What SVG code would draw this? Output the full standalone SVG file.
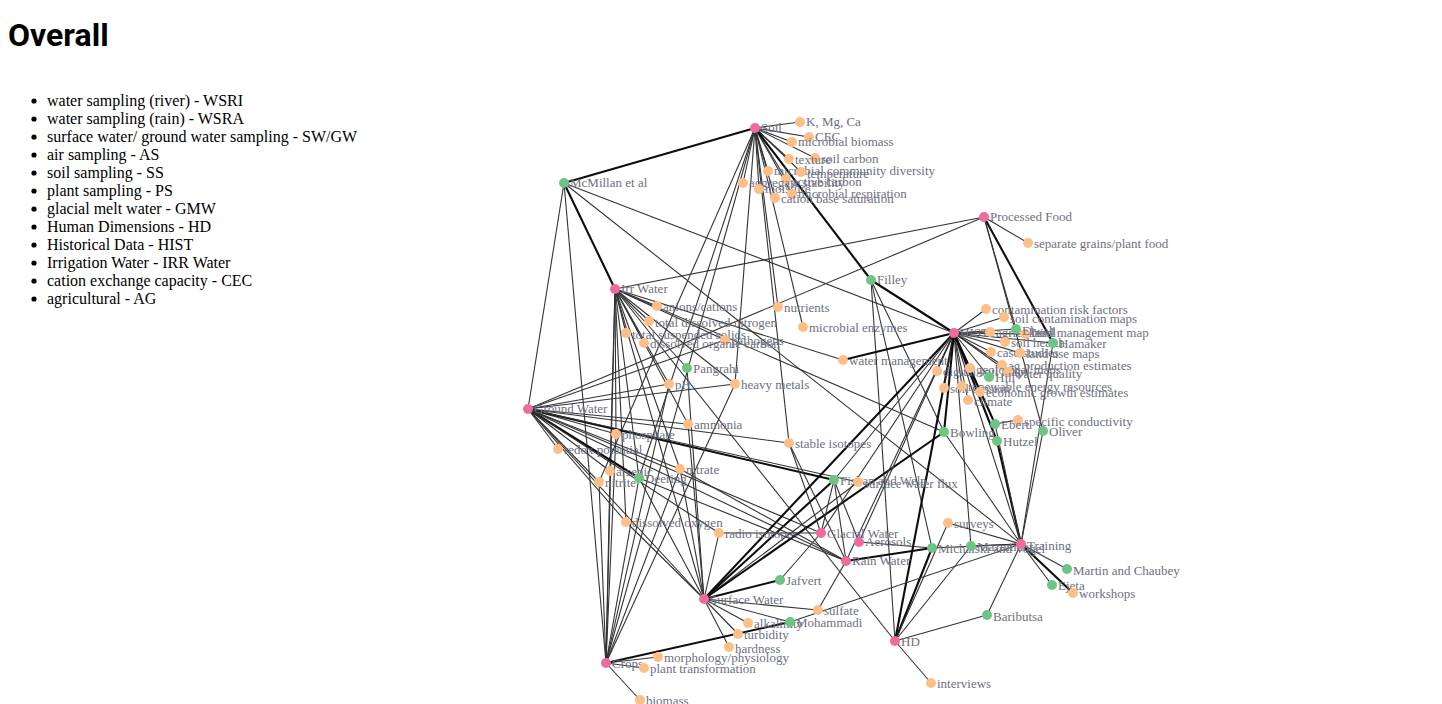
<svg xmlns="http://www.w3.org/2000/svg" width="1442" height="704" viewBox="0 0 1442 704">
<style>
.title{font-family:Roboto,"Liberation Sans",sans-serif;font-weight:700;font-size:32px;fill:#000}
.li{font-family:"Liberation Serif","Times New Roman",serif;font-size:16px;fill:#000}
#edges line{stroke:#333;stroke-width:1.1}
#edges line.t{stroke:#0d0d0d;stroke-width:2.1}
.node text{font-family:"Liberation Serif","Times New Roman",serif;font-size:13px;fill:#6e7080}
.hub circle{fill:#ef6a9d}
.pap circle{fill:#6cc584}
.att circle{fill:#fdbe87}
</style>
<rect width="1442" height="704" fill="#fff"/>
<text class="title" x="8" y="46">Overall</text>
<g id="legend">
<g fill="#000"><circle cx="34" cy="101" r="2.6"/><circle cx="34" cy="119" r="2.6"/><circle cx="34" cy="137" r="2.6"/><circle cx="34" cy="155" r="2.6"/><circle cx="34" cy="173" r="2.6"/><circle cx="34" cy="191" r="2.6"/><circle cx="34" cy="209" r="2.6"/><circle cx="34" cy="227" r="2.6"/><circle cx="34" cy="245" r="2.6"/><circle cx="34" cy="263" r="2.6"/><circle cx="34" cy="281" r="2.6"/><circle cx="34" cy="299" r="2.6"/></g>
<text class="li" x="47" y="106">water sampling (river) - WSRI</text>
<text class="li" x="47" y="124">water sampling (rain) - WSRA</text>
<text class="li" x="47" y="142">surface water/ ground water sampling - SW/GW</text>
<text class="li" x="47" y="160">air sampling - AS</text>
<text class="li" x="47" y="178">soil sampling - SS</text>
<text class="li" x="47" y="196">plant sampling - PS</text>
<text class="li" x="47" y="214">glacial melt water - GMW</text>
<text class="li" x="47" y="232">Human Dimensions - HD</text>
<text class="li" x="47" y="250">Historical Data - HIST</text>
<text class="li" x="47" y="268">Irrigation Water - IRR Water</text>
<text class="li" x="47" y="286">cation exchange capacity - CEC</text>
<text class="li" x="47" y="304">agricultural - AG</text>
</g>
<g id="edges">
<!-- Soil -->
<line x1="755" y1="128" x2="800" y2="122"/>
<line x1="755" y1="128" x2="809" y2="137"/>
<line x1="755" y1="128" x2="792" y2="142"/>
<line x1="755" y1="128" x2="789" y2="159"/>
<line x1="755" y1="128" x2="815" y2="158"/>
<line x1="755" y1="128" x2="768" y2="171"/>
<line x1="755" y1="128" x2="801" y2="172"/>
<line x1="755" y1="128" x2="786" y2="179"/>
<line x1="755" y1="128" x2="743" y2="183"/>
<line x1="755" y1="128" x2="759" y2="189"/>
<line x1="755" y1="128" x2="792" y2="194"/>
<line x1="755" y1="128" x2="775" y2="198"/>
<line class="t" x1="755" y1="128" x2="564" y2="183"/>
<line class="t" x1="755" y1="128" x2="871" y2="280"/>
<line x1="755" y1="128" x2="599" y2="482"/>
<line x1="755" y1="128" x2="639" y2="478"/>
<line x1="755" y1="128" x2="606" y2="663"/>
<line x1="755" y1="128" x2="735" y2="384"/>
<line x1="755" y1="128" x2="789" y2="443"/>
<line x1="755" y1="128" x2="778" y2="307"/>
<line x1="755" y1="128" x2="803" y2="327"/>
<!-- Filley -->
<line class="t" x1="871" y1="280" x2="954" y2="333"/>
<line x1="871" y1="280" x2="895" y2="641"/>
<line x1="871" y1="280" x2="944" y2="432"/>
<line x1="871" y1="280" x2="932" y2="548"/>
<!-- McMillan -->
<line class="t" x1="564" y1="183" x2="615" y2="289"/>
<line x1="564" y1="183" x2="528" y2="409"/>
<line x1="564" y1="183" x2="606" y2="663"/>
<line x1="564" y1="183" x2="954" y2="333"/>
<line x1="564" y1="183" x2="1021" y2="544"/>
<!-- Irr Water -->
<line x1="615" y1="289" x2="657" y2="306"/>
<line x1="615" y1="289" x2="649" y2="321"/>
<line x1="615" y1="289" x2="626" y2="333"/>
<line x1="615" y1="289" x2="644" y2="343"/>
<line x1="615" y1="289" x2="725" y2="340"/>
<line x1="615" y1="289" x2="669" y2="384"/>
<line x1="615" y1="289" x2="735" y2="384"/>
<line x1="615" y1="289" x2="687" y2="368"/>
<line x1="615" y1="289" x2="616" y2="434"/>
<line x1="615" y1="289" x2="610" y2="471"/>
<line x1="615" y1="289" x2="680" y2="469"/>
<line x1="615" y1="289" x2="639" y2="478"/>
<line x1="615" y1="289" x2="688" y2="424"/>
<line x1="615" y1="289" x2="843" y2="360"/>
<line x1="615" y1="289" x2="606" y2="663"/>
<line x1="615" y1="289" x2="704" y2="599"/>
<line x1="615" y1="289" x2="626" y2="522"/>
<line x1="615" y1="289" x2="944" y2="432"/>
<!-- Ground Water -->
<line x1="528" y1="409" x2="558" y2="449"/>
<line x1="528" y1="409" x2="616" y2="434"/>
<line x1="528" y1="409" x2="610" y2="471"/>
<line x1="528" y1="409" x2="599" y2="482"/>
<line x1="528" y1="409" x2="680" y2="469"/>
<line class="t" x1="528" y1="409" x2="639" y2="478"/>
<line x1="528" y1="409" x2="688" y2="424"/>
<line x1="528" y1="409" x2="669" y2="384"/>
<line x1="528" y1="409" x2="735" y2="384"/>
<line x1="528" y1="409" x2="789" y2="443"/>
<line class="t" x1="528" y1="409" x2="834" y2="480"/>
<line x1="528" y1="409" x2="858" y2="482"/>
<line x1="528" y1="409" x2="626" y2="522"/>
<line x1="528" y1="409" x2="719" y2="533"/>
<line x1="528" y1="409" x2="704" y2="599"/>
<line x1="528" y1="409" x2="725" y2="340"/>
<line x1="528" y1="409" x2="984" y2="217"/>
<line x1="528" y1="409" x2="846" y2="561"/>
<line x1="528" y1="409" x2="821" y2="533"/>
<!-- Surface Water -->
<line x1="704" y1="599" x2="748" y2="623"/>
<line x1="704" y1="599" x2="738" y2="634"/>
<line x1="704" y1="599" x2="729" y2="647"/>
<line x1="704" y1="599" x2="818" y2="610"/>
<line class="t" x1="704" y1="599" x2="780" y2="580"/>
<line x1="704" y1="599" x2="719" y2="533"/>
<line x1="704" y1="599" x2="680" y2="469"/>
<line x1="704" y1="599" x2="688" y2="424"/>
<line x1="704" y1="599" x2="687" y2="368"/>
<line class="t" x1="704" y1="599" x2="954" y2="333"/>
<line class="t" x1="704" y1="599" x2="834" y2="480"/>
<line x1="704" y1="599" x2="858" y2="482"/>
<line class="t" x1="704" y1="599" x2="944" y2="432"/>
<line x1="704" y1="599" x2="626" y2="522"/>
<line x1="704" y1="599" x2="790" y2="622"/>
<!-- Crops -->
<line x1="606" y1="663" x2="599" y2="482"/>
<line x1="606" y1="663" x2="610" y2="471"/>
<line x1="606" y1="663" x2="639" y2="478"/>
<line x1="606" y1="663" x2="669" y2="384"/>
<line x1="606" y1="663" x2="680" y2="469"/>
<line x1="606" y1="663" x2="735" y2="384"/>
<line x1="606" y1="663" x2="616" y2="434"/>
<line x1="606" y1="663" x2="658" y2="657"/>
<line x1="606" y1="663" x2="644" y2="668"/>
<line x1="606" y1="663" x2="640" y2="700"/>
<line class="t" x1="606" y1="663" x2="790" y2="622"/>
<!-- Deering -->
<line x1="639" y1="478" x2="846" y2="561"/>
<line x1="639" y1="478" x2="704" y2="599"/>
<!-- Fishan and Welp -->
<line x1="834" y1="480" x2="954" y2="333"/>
<line x1="834" y1="480" x2="821" y2="533"/>
<line x1="834" y1="480" x2="846" y2="561"/>
<line x1="834" y1="480" x2="859" y2="542"/>
<!-- Glacial / Rain / Aerosols -->
<line x1="821" y1="533" x2="719" y2="533"/>
<line x1="821" y1="533" x2="789" y2="443"/>
<line x1="821" y1="533" x2="780" y2="580"/>
<line x1="821" y1="533" x2="954" y2="333"/>
<line x1="846" y1="561" x2="680" y2="469"/>
<line x1="846" y1="561" x2="789" y2="443"/>
<line class="t" x1="846" y1="561" x2="932" y2="548"/>
<line x1="846" y1="561" x2="818" y2="610"/>
<line x1="846" y1="561" x2="954" y2="333"/>
<line x1="859" y1="542" x2="932" y2="548"/>
<line x1="859" y1="542" x2="954" y2="333"/>
<!-- HD -->
<line x1="895" y1="641" x2="931" y2="683"/>
<line x1="895" y1="641" x2="987" y2="615"/>
<line class="t" x1="895" y1="641" x2="932" y2="548"/>
<line x1="895" y1="641" x2="971" y2="546"/>
<line class="t" x1="895" y1="641" x2="954" y2="333"/>
<line x1="895" y1="641" x2="615" y2="289"/>
<line x1="895" y1="641" x2="948" y2="523"/>
<!-- Training -->
<line class="t" x1="1021" y1="544" x2="1073" y2="593"/>
<line x1="1021" y1="544" x2="1052" y2="585"/>
<line x1="1021" y1="544" x2="1067" y2="569"/>
<line x1="1021" y1="544" x2="987" y2="615"/>
<line x1="1021" y1="544" x2="971" y2="546"/>
<line x1="1021" y1="544" x2="932" y2="548"/>
<line class="t" x1="1021" y1="544" x2="997" y2="441"/>
<line x1="1021" y1="544" x2="995" y2="424"/>
<line x1="1021" y1="544" x2="1043" y2="431"/>
<line x1="1021" y1="544" x2="1053" y2="343"/>
<line x1="1021" y1="544" x2="944" y2="432"/>
<line x1="1021" y1="544" x2="954" y2="333"/>
<line x1="1021" y1="544" x2="790" y2="622"/>
<line x1="1021" y1="544" x2="948" y2="523"/>
<!-- HIST -->
<line x1="954" y1="333" x2="986" y2="309"/>
<line x1="954" y1="333" x2="1004" y2="317"/>
<line x1="954" y1="333" x2="990" y2="332"/>
<line x1="954" y1="333" x2="1025" y2="334"/>
<line x1="954" y1="333" x2="1005" y2="342"/>
<line x1="954" y1="333" x2="991" y2="352"/>
<line x1="954" y1="333" x2="1020" y2="353"/>
<line x1="954" y1="333" x2="1002" y2="365"/>
<line x1="954" y1="333" x2="937" y2="371"/>
<line x1="954" y1="333" x2="970" y2="368"/>
<line x1="954" y1="333" x2="1008" y2="372"/>
<line x1="954" y1="333" x2="944" y2="388"/>
<line x1="954" y1="333" x2="962" y2="386"/>
<line x1="954" y1="333" x2="980" y2="392"/>
<line x1="954" y1="333" x2="968" y2="400"/>
<line x1="954" y1="333" x2="989" y2="377"/>
<line x1="954" y1="333" x2="1016" y2="329"/>
<line x1="954" y1="333" x2="1053" y2="343"/>
<line class="t" x1="954" y1="333" x2="843" y2="360"/>
<line class="t" x1="954" y1="333" x2="995" y2="424"/>
<line class="t" x1="954" y1="333" x2="997" y2="441"/>
<line x1="954" y1="333" x2="971" y2="546"/>
<line class="t" x1="954" y1="333" x2="944" y2="432"/>
<!-- Processed Food -->
<line x1="984" y1="217" x2="1028" y2="243"/>
<line class="t" x1="984" y1="217" x2="1053" y2="343"/>
<line x1="984" y1="217" x2="1016" y2="329"/>
<line x1="984" y1="217" x2="1043" y2="431"/>
<line x1="984" y1="217" x2="615" y2="289"/>
<line x1="995" y1="424" x2="1018" y2="420"/>
</g>
<g id="n-soil" class="node hub"><circle cx="755" cy="128" r="5"/><text x="761" y="132">Soil</text></g>
<g id="n-irr" class="node hub"><circle cx="615" cy="289" r="5"/><text x="621" y="293">Irr Water</text></g>
<g id="n-gw" class="node hub"><circle cx="528" cy="409" r="5"/><text x="534" y="413">Ground Water</text></g>
<g id="n-mcmillan" class="node pap"><circle cx="564" cy="183" r="5"/><text x="570" y="187">McMillan et al</text></g>
<g id="n-filley" class="node pap"><circle cx="871" cy="280" r="5"/><text x="877" y="284">Filley</text></g>
<g id="n-kmgca" class="node att"><circle cx="800" cy="122" r="5"/><text x="806" y="126">K, Mg, Ca</text></g>
<g id="n-cec" class="node att"><circle cx="809" cy="137" r="5"/><text x="815" y="141">CEC</text></g>
<g id="n-mbio" class="node att"><circle cx="792" cy="142" r="5"/><text x="798" y="146">microbial biomass</text></g>
<g id="n-soilc" class="node att"><circle cx="815" cy="158" r="5"/><text x="821" y="163">soil carbon</text></g>
<g id="n-texture" class="node att"><circle cx="789" cy="159" r="5"/><text x="795" y="164">texture</text></g>
<g id="n-mcd" class="node att"><circle cx="768" cy="171" r="5"/><text x="774" y="175">microbial community diversity</text></g>
<g id="n-temp" class="node att"><circle cx="801" cy="172" r="5"/><text x="807" y="178">temperature</text></g>
<g id="n-actc" class="node att"><circle cx="786" cy="179" r="5"/><text x="792" y="186">active carbon</text></g>
<g id="n-agg" class="node att"><circle cx="743" cy="183" r="5"/><text x="749" y="187">aggregate stability</text></g>
<g id="n-moist" class="node att"><circle cx="759" cy="189" r="5"/><text x="765" y="193">moisture</text></g>
<g id="n-mresp" class="node att"><circle cx="792" cy="194" r="5"/><text x="798" y="198">microbial respiration</text></g>
<g id="n-cbs" class="node att"><circle cx="775" cy="198" r="5"/><text x="781" y="203">cation base saturation</text></g>
<g id="n-pf" class="node hub"><circle cx="984" cy="217" r="5"/><text x="990" y="221">Processed Food</text></g>
<g id="n-sepgrains" class="node att"><circle cx="1028" cy="243" r="5"/><text x="1034" y="248">separate grains/plant food</text></g>
<g id="n-anions" class="node att"><circle cx="657" cy="306" r="5"/><text x="663" y="311">anions/cations</text></g>
<g id="n-nutrients" class="node att"><circle cx="778" cy="307" r="5"/><text x="784" y="312">nutrients</text></g>
<g id="n-tdn" class="node att"><circle cx="649" cy="321" r="5"/><text x="655" y="327">total dissolved nitrogen</text></g>
<g id="n-menz" class="node att"><circle cx="803" cy="327" r="5"/><text x="809" y="332">microbial enzymes</text></g>
<g id="n-tss" class="node att"><circle cx="626" cy="333" r="5"/><text x="632" y="339">total suspended solids</text></g>
<g id="n-path" class="node att"><circle cx="725" cy="340" r="5"/><text x="731" y="345">pathogens</text></g>
<g id="n-doc" class="node att"><circle cx="644" cy="343" r="5"/><text x="650" y="348">dissolved organic carbon</text></g>
<g id="n-waterm" class="node att"><circle cx="843" cy="360" r="5"/><text x="849" y="365">water management</text></g>
<g id="n-pangrahi" class="node pap"><circle cx="687" cy="368" r="5"/><text x="693" y="373">Pangrahi</text></g>
<g id="n-ph" class="node att"><circle cx="669" cy="384" r="5"/><text x="675" y="389">pH</text></g>
<g id="n-heavy" class="node att"><circle cx="735" cy="384" r="5"/><text x="741" y="389">heavy metals</text></g>
<g id="n-ammonia" class="node att"><circle cx="688" cy="424" r="5"/><text x="694" y="429">ammonia</text></g>
<g id="n-phosphate" class="node att"><circle cx="616" cy="434" r="5"/><text x="622" y="439">phosphate</text></g>
<g id="n-stable" class="node att"><circle cx="789" cy="443" r="5"/><text x="795" y="448">stable isotopes</text></g>
<g id="n-redox" class="node att"><circle cx="558" cy="449" r="5"/><text x="564" y="454">redox potential</text></g>
<g id="n-nitrate" class="node att"><circle cx="680" cy="469" r="5"/><text x="686" y="474">nitrate</text></g>
<g id="n-arsenic" class="node att"><circle cx="610" cy="471" r="5"/><text x="616" y="476">arsenic</text></g>
<g id="n-nitrite" class="node att"><circle cx="599" cy="482" r="5"/><text x="605" y="487">nitrite</text></g>
<g id="n-deering" class="node pap"><circle cx="639" cy="478" r="5"/><text x="645" y="483">Deering</text></g>
<g id="n-dox" class="node att"><circle cx="626" cy="522" r="5"/><text x="632" y="527">dissolved oxygen</text></g>
<g id="n-radio" class="node att"><circle cx="719" cy="533" r="5"/><text x="725" y="538">radio isotopes</text></g>
<g id="n-fishan" class="node pap"><circle cx="834" cy="480" r="5"/><text x="840" y="485">Fishan and Welp</text></g>
<g id="n-swflux" class="node att"><circle cx="858" cy="482" r="5"/><text x="864" y="488">surface water flux</text></g>
<g id="n-glacial" class="node hub"><circle cx="821" cy="533" r="5"/><text x="827" y="538">Glacial Water</text></g>
<g id="n-aerosols" class="node hub"><circle cx="859" cy="542" r="5"/><text x="865" y="546">Aerosols</text></g>
<g id="n-rain" class="node hub"><circle cx="846" cy="561" r="5"/><text x="852" y="565">Rain Water</text></g>
<g id="n-surveys" class="node att"><circle cx="948" cy="523" r="5"/><text x="954" y="528">surveys</text></g>
<g id="n-jafvert" class="node pap"><circle cx="780" cy="580" r="5"/><text x="786" y="585">Jafvert</text></g>
<g id="n-sw" class="node hub"><circle cx="704" cy="599" r="5"/><text x="710" y="604">Surface Water</text></g>
<g id="n-sulfate" class="node att"><circle cx="818" cy="610" r="5"/><text x="824" y="615">sulfate</text></g>
<g id="n-alkalinity" class="node att"><circle cx="748" cy="623" r="5"/><text x="754" y="628">alkalinity</text></g>
<g id="n-mohammadi" class="node pap"><circle cx="790" cy="622" r="5"/><text x="796" y="627">Mohammadi</text></g>
<g id="n-turbidity" class="node att"><circle cx="738" cy="634" r="5"/><text x="744" y="639">turbidity</text></g>
<g id="n-hardness" class="node att"><circle cx="729" cy="647" r="5"/><text x="735" y="653">hardness</text></g>
<g id="n-morph" class="node att"><circle cx="658" cy="657" r="5"/><text x="664" y="662">morphology/physiology</text></g>
<g id="n-crops" class="node hub"><circle cx="606" cy="663" r="5"/><text x="612" y="668">Crops</text></g>
<g id="n-plantt" class="node att"><circle cx="644" cy="668" r="5"/><text x="650" y="673">plant transformation</text></g>
<g id="n-biomass" class="node att"><circle cx="640" cy="700" r="5"/><text x="646" y="705">biomass</text></g>
<g id="n-hd" class="node hub"><circle cx="895" cy="641" r="5"/><text x="901" y="646">HD</text></g>
<g id="n-interviews" class="node att"><circle cx="931" cy="683" r="5"/><text x="937" y="688">interviews</text></g>
<g id="n-hist" class="node hub"><circle cx="954" cy="333" r="5"/><text x="960" y="337">HIST</text></g>
<g id="n-crf" class="node att"><circle cx="986" cy="309" r="5"/><text x="992" y="314">contamination risk factors</text></g>
<g id="n-scm" class="node att"><circle cx="1004" cy="317" r="5"/><text x="1010" y="323">soil contamination maps</text></g>
<g id="n-agri" class="node att"><circle cx="990" cy="332" r="5"/><text x="996" y="337">agricultural</text></g>
<g id="n-lmm" class="node att"><circle cx="1025" cy="334" r="5"/><text x="1031" y="337">land management map</text></g>
<g id="n-elwali" class="node pap"><circle cx="1016" cy="329" r="5"/><text x="1022" y="335">Elwali</text></g>
<g id="n-soilh" class="node att"><circle cx="1005" cy="342" r="5"/><text x="1011" y="347">soil health</text></g>
<g id="n-hamaker" class="node pap"><circle cx="1053" cy="343" r="5"/><text x="1059" y="348">Hamaker</text></g>
<g id="n-cases" class="node att"><circle cx="991" cy="352" r="5"/><text x="997" y="357">case studies</text></g>
<g id="n-landuse" class="node att"><circle cx="1020" cy="353" r="5"/><text x="1026" y="358">land use maps</text></g>
<g id="n-agprod" class="node att"><circle cx="1002" cy="365" r="5"/><text x="1008" y="370">ag production estimates</text></g>
<g id="n-digital" class="node att"><circle cx="937" cy="371" r="5"/><text x="943" y="376">digital soil maps</text></g>
<g id="n-geo" class="node att"><circle cx="970" cy="368" r="5"/><text x="976" y="374">geological maps</text></g>
<g id="n-wq" class="node att"><circle cx="1008" cy="372" r="5"/><text x="1014" y="378">water quality</text></g>
<g id="n-hill" class="node pap"><circle cx="989" cy="377" r="5"/><text x="995" y="382">Hill</text></g>
<g id="n-soile" class="node att"><circle cx="944" cy="388" r="5"/><text x="950" y="393">soil erosion</text></g>
<g id="n-renew" class="node att"><circle cx="962" cy="386" r="5"/><text x="968" y="391">renewable energy resources</text></g>
<g id="n-econ" class="node att"><circle cx="980" cy="392" r="5"/><text x="986" y="397">economic growth estimates</text></g>
<g id="n-climate" class="node att"><circle cx="968" cy="400" r="5"/><text x="974" y="406">climate</text></g>
<g id="n-specc" class="node att"><circle cx="1018" cy="420" r="5"/><text x="1024" y="426">specific conductivity</text></g>
<g id="n-ebert" class="node pap"><circle cx="995" cy="424" r="5"/><text x="1001" y="429">Ebert</text></g>
<g id="n-oliver" class="node pap"><circle cx="1043" cy="431" r="5"/><text x="1049" y="436">Oliver</text></g>
<g id="n-bowling" class="node pap"><circle cx="944" cy="432" r="5"/><text x="950" y="437">Bowling</text></g>
<g id="n-hutzel" class="node pap"><circle cx="997" cy="441" r="5"/><text x="1003" y="446">Hutzel</text></g>
<g id="n-michalski" class="node pap"><circle cx="932" cy="548" r="5"/><text x="938" y="553">Michalski and Vogel</text></g>
<g id="n-mazumdar" class="node pap"><circle cx="971" cy="546" r="5"/><text x="977" y="551">Mazumdar</text></g>
<g id="n-training" class="node hub"><circle cx="1021" cy="544" r="5"/><text x="1027" y="550">Training</text></g>
<g id="n-martin" class="node pap"><circle cx="1067" cy="569" r="5"/><text x="1073" y="575">Martin and Chaubey</text></g>
<g id="n-ejeta" class="node pap"><circle cx="1052" cy="585" r="5"/><text x="1058" y="590">Ejeta</text></g>
<g id="n-workshops" class="node att"><circle cx="1073" cy="593" r="5"/><text x="1079" y="598">workshops</text></g>
<g id="n-baributsa" class="node pap"><circle cx="987" cy="615" r="5"/><text x="993" y="621">Baributsa</text></g>
</svg>
